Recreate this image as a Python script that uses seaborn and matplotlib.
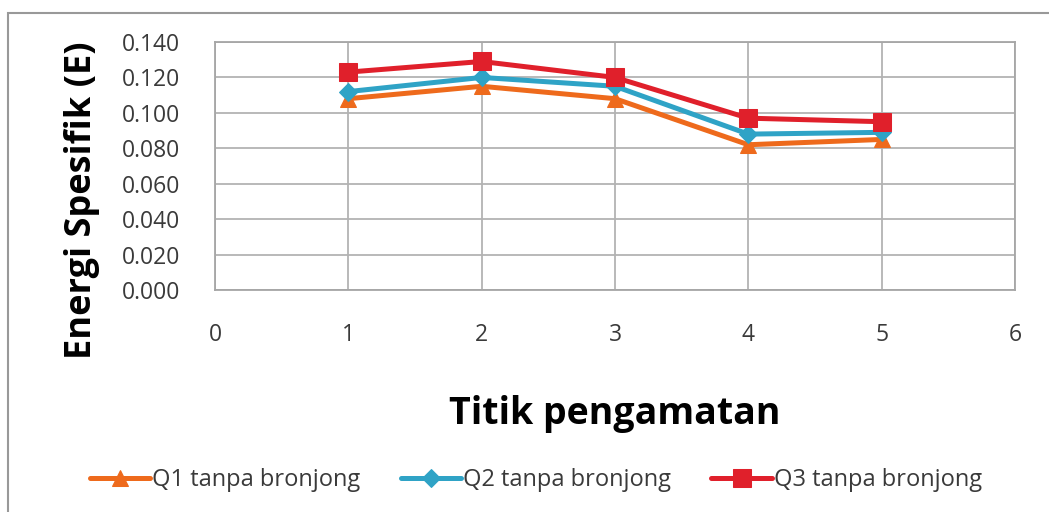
import matplotlib
matplotlib.use("Agg")
import matplotlib.pyplot as plt
from matplotlib.patches import Rectangle
import pandas as pd
import seaborn as sns

# Observation points and specific energy for three discharges
titik = [1, 2, 3, 4, 5]
q1 = [0.108, 0.115, 0.108, 0.082, 0.085]
q2 = [0.112, 0.120, 0.115, 0.088, 0.089]
q3 = [0.123, 0.129, 0.120, 0.097, 0.095]
series_names = ["Q1 tanpa bronjong", "Q2 tanpa bronjong", "Q3 tanpa bronjong"]
y_ticks = [0.000, 0.020, 0.040, 0.060, 0.080, 0.100, 0.120, 0.140]
x_ticks = [0, 1, 2, 3, 4, 5, 6]

colors = ["#EE6A1C", "#2FA3C6", "#E0202B"]
markers = ["^", "D", "s"]
msizes = [11, 9, 13]

sns.set_theme(style="white")
plt.rcParams["font.family"] = ["Open Sans", "DejaVu Sans"]

fig = plt.figure(figsize=(10.49, 5.12), dpi=100)
W, H = 1049, 512
ax = fig.add_axes([215 / W, 1 - 290 / H, (1015 - 215) / W, (290 - 42) / H])

# outer frame of the chart area
fig.patches.append(Rectangle((8 / W, -0.05), 1.2, 1 - 13 / H + 0.05,
                             transform=fig.transFigure, fill=False,
                             edgecolor="#999999", linewidth=1.5))

df = pd.DataFrame({
    "Titik": titik * 3,
    "E": q1 + q2 + q3,
    "Seri": sum([[n] * len(titik) for n in series_names], []),
})

for name, c, m, ms in zip(series_names, colors, markers, msizes):
    sns.lineplot(data=df[df["Seri"] == name], x="Titik", y="E", ax=ax,
                 color=c, marker=m, markersize=ms, linewidth=3.6,
                 markeredgecolor=c, label=name)

ax.set_xlim(0, 6)
ax.set_ylim(0, 0.140)
ax.set_xticks(x_ticks)
ax.set_yticks(y_ticks)
ax.set_yticklabels([f"{v:.3f}" for v in y_ticks])
ax.grid(True, color="#b3b3b3", linewidth=1.3)
for s in ax.spines.values():
    s.set_color("#a6a6a6")
    s.set_linewidth(1.3)
ax.tick_params(axis="both", colors="#a6a6a6", labelcolor="#3a3a3a",
               labelsize=16.5, length=7, width=1.3, direction="out")
ax.tick_params(axis="x", pad=17)
ax.tick_params(axis="y", pad=18)

ax.set_ylabel("Energi Spesifik (E)", fontsize=26, fontweight="bold",
              color="#000000")
ax.yaxis.set_label_coords(-0.144, 0.363)
ax.set_xlabel("Titik pengamatan", fontsize=27, fontweight="bold",
              color="#000000", labelpad=34)

leg = ax.legend(loc="center", bbox_to_anchor=(536 / W, 1 - 480 / H),
                bbox_transform=fig.transFigure, ncol=3, frameon=False,
                fontsize=17, handlelength=2.55, columnspacing=1.7,
                handletextpad=0.1)
for t in leg.get_texts():
    t.set_color("#3a3a3a")

fig.savefig("out.png", dpi=100)
